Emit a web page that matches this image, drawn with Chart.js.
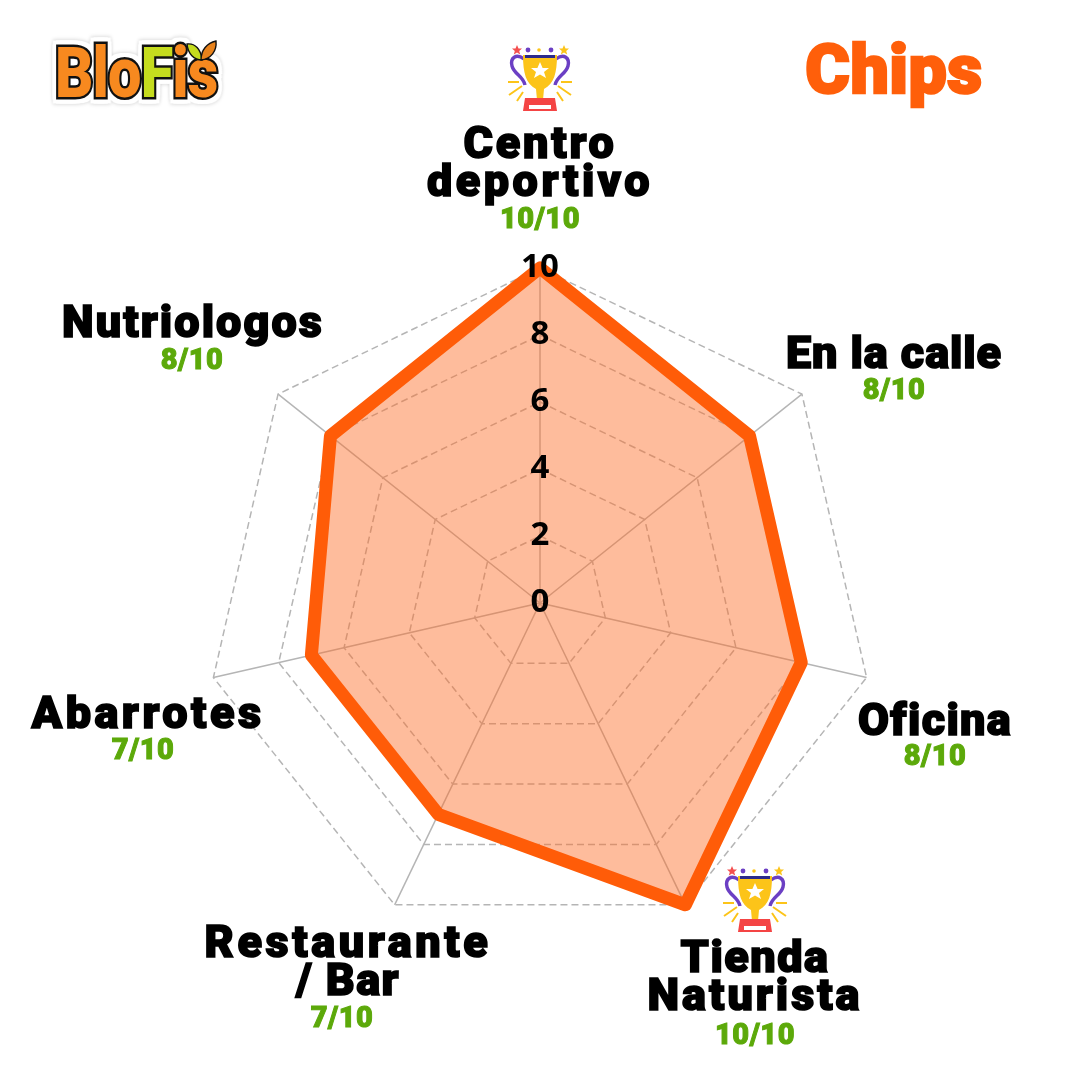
<!DOCTYPE html>
<html>
<head>
<meta charset="utf-8">
<script src="https://cdn.jsdelivr.net/npm/chart.js@4"></script>
<style>
html, body { margin: 0; padding: 0; background: #fff; }
#wrap { position: relative; width: 1080px; height: 1080px; overflow: hidden; }
#chart { position: absolute; left: 0; top: 0; }
.lbl { position: absolute; transform: translate(-50%, -50%); text-align: center; white-space: nowrap;
  font-family: Roboto, sans-serif; font-weight: 900; color: #000; -webkit-text-stroke: 1.6px #000; }
.name { font-size: 45px; line-height: 38px; }
.name span { display: block; width: max-content; margin: 0 auto; }
.score { color: #5ca90a; font-size: 29px; -webkit-text-stroke: 1px #5ca90a; letter-spacing: 0.5px; }
#title { color: #ff5f0a; font-size: 68px; -webkit-text-stroke: 2.5px #ff5f0a; letter-spacing: 0.5px; }
#logo { position: absolute; left: 55px; top: 33px; font-family: Roboto, sans-serif; font-weight: 900; font-size: 70px;
  letter-spacing: -1px; line-height: 80px; color: #f7891f; -webkit-text-stroke: 5px #111; paint-order: stroke fill;
  transform: scaleX(0.85); transform-origin: left center;
  filter: drop-shadow(4px 0 0 #fff) drop-shadow(-4px 0 0 #fff) drop-shadow(0 4px 0 #fff) drop-shadow(0 -4px 0 #fff) drop-shadow(0 0 2px #ccc); }
#logo span { color: #c5dc1e; }
#hojas { position: absolute; left: 186px; top: 40px; width: 32px; height: 22px; }
.trophy { position: absolute; width: 64px; height: 68px; }
</style>
</head>
<body>
<div id="wrap">
  <canvas id="chart" width="1080" height="1080"></canvas>
  <div id="logo">Blo<span>F</span>is</div>
  <svg id="hojas" viewBox="0 0 32 22">
    <path d="M1 4C9 3 15 9 16 20C8 20 2 14 1 4Z" fill="#c5dc1e" stroke="#111" stroke-width="1.4"/>
    <path d="M30 1C31 11 25 19 15 20C15 10 21 3 30 1Z" fill="#e8821c" stroke="#111" stroke-width="1.4"/>
  </svg>
  <div class="lbl" id="title" style="left:894px;top:70px">Chips</div>
  <svg width="0" height="0" style="position:absolute">
    <symbol id="cup" viewBox="0 0 64 68">
      <path d="M16 14C8 8 2 13 4 21C6 29 15 31 17 40" fill="none" stroke="#6b3fc4" stroke-width="3.4"/>
      <path d="M48 14C56 8 62 13 60 21C58 29 49 31 47 40" fill="none" stroke="#6b3fc4" stroke-width="3.4"/>
      <path d="M15 10H49C49 28 46 39 36 44L35 55H29L28 44C18 39 15 28 15 10Z" fill="#fcc419"/>
      <path d="M17 10H47V13H17Z" fill="#2b2a8c"/>
      <path d="M32 17L34.6 23H41L36 27L38 33L32 29.5L26 33L28 27L23 23H29.4Z" fill="#fff"/>
      <path d="M17 53H47L49 66H15Z" fill="#f44444"/>
      <path d="M21 60H43V64H21Z" fill="#fff"/>
      <path d="M0 37H11M1 50L14 41M9 56L15 47M64 37H53M63 50L50 41M55 56L49 47" stroke="#fcc419" stroke-width="2" fill="none"/>
      <path d="M9 0L10.5 3.5H14L11.2 6L12.2 9.5L9 7.5L5.8 9.5L6.8 6L4 3.5H7.5Z" fill="#f44f4f"/>
      <path d="M56 0L57.5 3.5H61L58.2 6L59.2 9.5L56 7.5L52.8 9.5L53.8 6L51 3.5H54.5Z" fill="#fcc419"/>
      <circle cx="20" cy="5" r="2.4" fill="#6b3fc4"/><circle cx="43" cy="5" r="2.4" fill="#6b3fc4"/><circle cx="31" cy="5" r="1.8" fill="#fcc419"/>
    </symbol>
  </svg>
  <svg class="trophy" style="left:508px;top:45px"><use href="#cup"/></svg>
  <svg class="trophy" style="left:723px;top:866px"><use href="#cup"/></svg>
</div>
<script>
// Datos de la grafica
var categorias = [['Centro', 'deportivo'], ['En la calle'], ['Oficina'], ['Tienda', 'Naturista'], ['Restaurante', '/ Bar'], ['Abarrotes'], ['Nutriologos']];
var valores = [10, 8, 8, 10, 7, 7, 8];
var maximo = 10;

// Centro de cada etiqueta: nombre x, nombre y, puntaje x, puntaje y
var posiciones = [
	[540, 162, 540, 218],
	[894, 353, 894, 389],
	[935, 720, 935, 755],
	[755, 976, 755, 1034],
	[348, 961, 342, 1017],
	[148, 713, 143, 749],
	[193, 322, 192, 359]
];
// Ancho de cada renglon de texto en la imagen
var anchos = [[153, 226], [216], [154], [149, 215], [287, 104], [233], [262]];

var wrap = document.getElementById('wrap');
categorias.forEach(function (nombre, i) {
	var n = document.createElement('div');
	n.className = 'lbl name';
	n.style.left = posiciones[i][0] + 'px';
	n.style.top = posiciones[i][1] + 'px';
	wrap.appendChild(n);
	nombre.forEach(function (linea, j) {
		var sp = document.createElement('span');
		sp.textContent = linea;
		n.appendChild(sp);
		sp.style.letterSpacing = (anchos[i][j] - sp.getBoundingClientRect().width) / linea.length + 'px';
	});
	var s = document.createElement('div');
	s.className = 'lbl score';
	s.style.left = posiciones[i][2] + 'px';
	s.style.top = posiciones[i][3] + 'px';
	s.textContent = valores[i] + '/' + maximo;
	wrap.appendChild(s);
});

var tickFont = { family: 'Noto Sans', size: 33, weight: 'bold' };

// Chart.js no dibuja la marca del cero en la escala radial
var marcaCero = {
	id: 'marcaCero',
	afterDraw: function (chart) {
		var r = chart.scales.r;
		var c = chart.ctx;
		c.save();
		c.font = tickFont.weight + ' ' + tickFont.size + 'px "' + tickFont.family + '"';
		c.fillStyle = '#000';
		c.textAlign = 'center';
		c.textBaseline = 'middle';
		c.fillText(r.ticks[0].label, r.xCenter, r.yCenter - r.getDistanceFromCenterForValue(r.ticks[0].value));
		c.restore();
	}
};

new Chart(document.getElementById('chart').getContext('2d'), {
	type: 'radar',
	data: {
		labels: categorias,
		datasets: [{
			data: valores,
			backgroundColor: 'rgba(253, 108, 40, 0.46)',
			borderColor: '#ff5c08',
			borderWidth: 13,
			borderJoinStyle: 'round',
			pointRadius: 0
		}]
	},
	plugins: [marcaCero],
	options: {
		responsive: false,
		animation: false,
		layout: { padding: { top: 249, bottom: 123, left: 186, right: 186 } },
		plugins: { legend: { display: false }, tooltip: { enabled: false } },
		scales: {
			r: {
				min: 0,
				max: maximo,
				ticks: {
					stepSize: 2,
					z: 1,
					showLabelBackdrop: false,
					color: '#000',
					font: tickFont
				},
				grid: { color: '#b5b5b5', lineWidth: 1.5 },
				border: { dash: [7, 4] },
				angleLines: { color: '#b5b5b5', lineWidth: 1.5 },
				pointLabels: { display: false }
			}
		}
	}
});
</script>
</body>
</html>
